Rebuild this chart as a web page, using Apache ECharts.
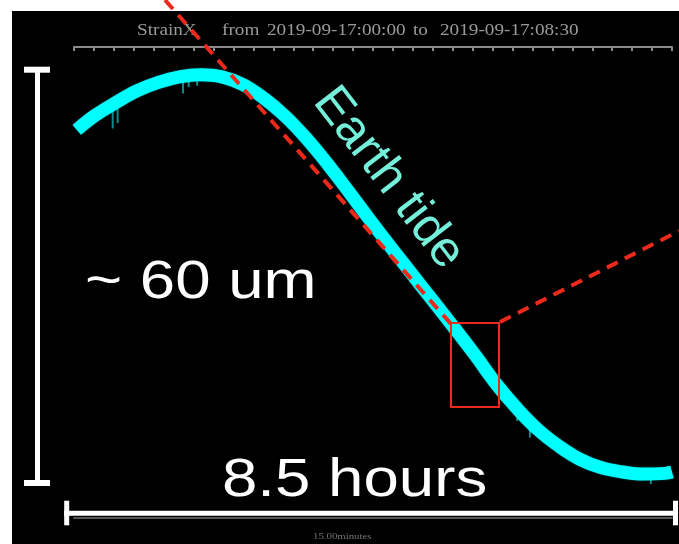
<!DOCTYPE html>
<html>
<head>
<meta charset="utf-8">
<script src="https://cdn.jsdelivr.net/npm/echarts@6/dist/echarts.min.js"></script>
<style>html,body{margin:0;padding:0;background:#fff;}#c{width:679px;height:544px;}</style>
</head>
<body>
<div id="c"></div>
<script>
// time in hours since 2019-09-17 00:00
var hours = [0.04, 0.3, 0.6, 0.9, 1.2, 1.5, 1.8, 2.1, 2.4, 2.7, 3.0, 3.3, 3.6, 3.9, 4.2, 4.5, 4.8, 5.1, 5.4, 5.7, 6.0, 6.3, 6.6, 6.9, 7.2, 7.5, 7.8, 8.1, 8.4, 8.5];
// strain displacement (um, relative)
var strain = [51.3, 53.4, 55.3, 57.0, 58.2, 59.0, 59.3, 59.0, 57.9, 55.9, 53.3, 50.1, 46.4, 42.4, 38.3, 34.3, 30.4, 26.5, 22.6, 18.6, 14.4, 10.8, 7.7, 5.3, 3.4, 2.2, 1.6, 1.3, 1.4, 1.6];
// small noise spikes (hour, top, bottom)
var spikeHours = [0.55, 0.62, 1.55, 1.63, 1.75, 6.3, 6.48, 8.2];
var spikeTop = [55.0, 55.8, 58.8, 59.1, 59.2, 10.5, 8.6, 1.2];
var spikeBottom = [51.5, 52.3, 56.6, 57.5, 57.7, 9.0, 6.6, -2.4];

var titleParts = ['StrainX', 'from', '2019-09-17:00:00', 'to', '2019-09-17:08:30'];
var axisNote = '15.00minutes';
var heightNote = '~ 60 um';
var spanNote = '8.5 hours';
var curveNote = 'Earth tide';

var curveData = hours.map(function (h, i) { return [h, strain[i]]; });
var spikeData = [];
spikeHours.forEach(function (h, i) {
  spikeData.push([h, spikeTop[i]], [h, spikeBottom[i]], ['-', '-']);
});

var chart = echarts.init(document.getElementById('c'), null, {renderer: 'canvas'});
var titleX = [137, 222, 267, 413, 440];
var red = '#ec2a1c';
var graphics = [
  {type: 'rect', z: -5, silent: true, shape: {x: 12, y: 11, width: 667, height: 533}, style: {fill: '#000'}}
];
titleParts.forEach(function (t, i) {
  graphics.push({type: 'text', z: 5, x: titleX[i], y: 31, scaleX: 1.2, style: {text: t, font: '16px "Liberation Serif", serif', fill: '#9a9a9a', textVerticalAlign: 'middle'}});
});
graphics.push(
  {type: 'text', z: 5, x: 313, y: 537, scaleX: 1.2, style: {text: axisNote, font: '9px "Liberation Serif", serif', fill: '#777', textVerticalAlign: 'middle'}},
  // vertical bar
  {type: 'line', z: 10, shape: {x1: 37.5, y1: 70, x2: 37.5, y2: 483}, style: {stroke: '#fff', lineWidth: 5}},
  {type: 'line', z: 10, shape: {x1: 24, y1: 69.7, x2: 50, y2: 69.7}, style: {stroke: '#fff', lineWidth: 6}},
  {type: 'line', z: 10, shape: {x1: 24, y1: 483, x2: 50, y2: 483}, style: {stroke: '#fff', lineWidth: 6}},
  // horizontal bar
  {type: 'line', z: 10, shape: {x1: 64, y1: 513.3, x2: 678, y2: 513.3}, style: {stroke: '#fff', lineWidth: 5}},
  {type: 'line', z: 10, shape: {x1: 66.7, y1: 500.7, x2: 66.7, y2: 525.3}, style: {stroke: '#fff', lineWidth: 5}},
  {type: 'line', z: 10, shape: {x1: 675.5, y1: 500.7, x2: 675.5, y2: 525.3}, style: {stroke: '#fff', lineWidth: 5}},
  {type: 'text', z: 10, x: 85, y: 310, scaleX: 1.2, style: {text: heightNote, font: '53px "Liberation Sans", Arial, sans-serif', fill: '#fff', textVerticalAlign: 'bottom'}},
  {type: 'text', z: 10, x: 222, y: 508, scaleX: 1.2, style: {text: spanNote, font: '53px "Liberation Sans", Arial, sans-serif', fill: '#fff', textVerticalAlign: 'bottom'}},
  {type: 'text', z: 10, x: 343, y: 78, rotation: -0.915, style: {text: curveNote, font: '50px "Liberation Sans", Arial, sans-serif', fill: '#74f0da', textVerticalAlign: 'top'}},
  // red annotation
  {type: 'line', z: 10, shape: {x1: 165, y1: 0, x2: 451, y2: 324}, style: {stroke: red, lineWidth: 4, lineDash: [12, 8]}},
  {type: 'rect', z: 10, shape: {x: 451, y: 323, width: 48, height: 84}, style: {stroke: red, lineWidth: 2, fill: null}},
  {type: 'line', z: 10, shape: {x1: 500, y1: 322, x2: 679, y2: 231}, style: {stroke: red, lineWidth: 4, lineDash: [12, 8]}}
);

chart.setOption({
  backgroundColor: '#fff',
  animation: false,
  grid: {left: 74, right: 7, top: 70, bottom: 61},
  xAxis: [
    {type: 'value', min: 0, max: 8.5, interval: 17 / 60, position: 'top', offset: 23,
     axisLine: {show: true, onZero: false, lineStyle: {color: '#8a8a8a', width: 2}},
     axisTick: {show: true, inside: true, length: 4, lineStyle: {color: '#8a8a8a', width: 2}},
     axisLabel: {show: false}, splitLine: {show: false}},
    {type: 'value', min: 0, max: 8.5, interval: 17 / 60, position: 'bottom', offset: 35,
     axisLine: {show: true, onZero: false, lineStyle: {color: '#555', width: 2}},
     axisTick: {show: false}, axisLabel: {show: false}, splitLine: {show: false}}
  ],
  yAxis: {type: 'value', min: 0, max: 60, show: false, splitLine: {show: false}},
  series: [
    {type: 'line', name: 'noise', data: spikeData, xAxisIndex: 0, showSymbol: false, connectNulls: false,
     lineStyle: {color: '#0e8a8a', width: 2}, z: 1},
    {type: 'line', name: 'StrainX', data: curveData, xAxisIndex: 0, smooth: 0.4, showSymbol: false,
     lineStyle: {color: '#00ffff', width: 13, cap: 'butt', shadowColor: 'rgba(0,255,255,0.4)', shadowBlur: 2}, z: 2}
  ],
  graphic: graphics
});
</script>
</body>
</html>
